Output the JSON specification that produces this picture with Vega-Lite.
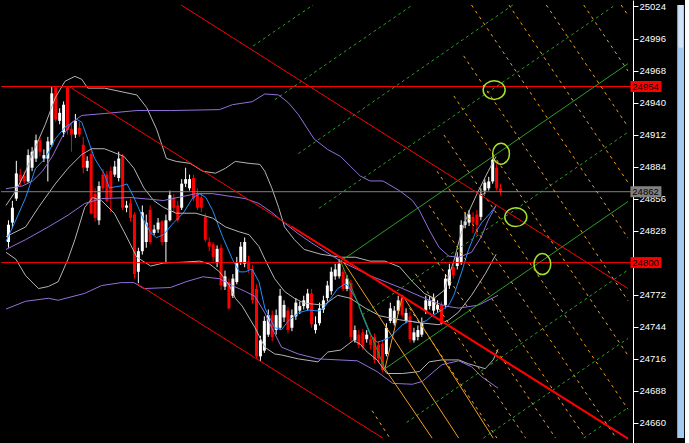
{
"$schema": "https://vega.github.io/schema/vega-lite/v6.json",
"width": 632, "height": 443,
"autosize": {"type": "pad"},
"padding": 0,
"background": "#000000",
"config": {"view": {"stroke": null},
  "axis": {"labelOverlap": false, "grid": false, "domainColor": "#ffffff", "tickColor": "#ffffff", "tickSize": 5, "labelColor": "#ffffff", "labelFont": "Liberation Sans", "labelFontSize": 9.5, "labelPadding": 1, "labelFlush": 3, "title": null, "tickCount": 30}},
"datasets": {
"c": [
{"i":0,"o":24818,"h":24837,"l":24813,"c":24833},{"i":1,"o":24835,"h":24854,"l":24830,"c":24848},{"i":2,"o":24856,"h":24889,"l":24854,"c":24878},{"i":3,"o":24877,"h":24882,"l":24867,"c":24871},{"i":4,"o":24876,"h":24880,"l":24869,"c":24871},{"i":5,"o":24871,"h":24899,"l":24870,"c":24894},{"i":6,"o":24883,"h":24901,"l":24880,"c":24897},{"i":7,"o":24891,"h":24912,"l":24888,"c":24907},{"i":8,"o":24907,"h":24910,"l":24893,"c":24897},{"i":9,"o":24891,"h":24899,"l":24888,"c":24894},
{"i":10,"o":24891,"h":24910,"l":24871,"c":24906},{"i":11,"o":24903,"h":24954,"l":24901,"c":24948},{"i":12,"o":24953,"h":24954,"l":24923,"c":24925},{"i":13,"o":24924,"h":24935,"l":24921,"c":24931},{"i":14,"o":24914,"h":24941,"l":24910,"c":24938},{"i":15,"o":24953,"h":24954,"l":24912,"c":24916},{"i":16,"o":24917,"h":24921,"l":24897,"c":24912},{"i":17,"o":24912,"h":24930,"l":24909,"c":24924},{"i":18,"o":24918,"h":24923,"l":24910,"c":24912},{"i":19,"o":24903,"h":24910,"l":24878,"c":24883},
{"i":20,"o":24883,"h":24893,"l":24880,"c":24889},{"i":21,"o":24895,"h":24899,"l":24842,"c":24843},{"i":22,"o":24860,"h":24865,"l":24836,"c":24839},{"i":23,"o":24837,"h":24871,"l":24833,"c":24867},{"i":24,"o":24877,"h":24882,"l":24863,"c":24865},{"i":25,"o":24877,"h":24880,"l":24853,"c":24854},{"i":26,"o":24880,"h":24884,"l":24844,"c":24857},{"i":27,"o":24877,"h":24889,"l":24875,"c":24884},{"i":28,"o":24874,"h":24897,"l":24871,"c":24891},{"i":29,"o":24893,"h":24895,"l":24846,"c":24848},
{"i":30,"o":24848,"h":24854,"l":24844,"c":24850},{"i":31,"o":24852,"h":24856,"l":24836,"c":24839},{"i":32,"o":24842,"h":24844,"l":24786,"c":24790},{"i":33,"o":24792,"h":24813,"l":24782,"c":24810},{"i":34,"o":24810,"h":24850,"l":24807,"c":24844},{"i":35,"o":24818,"h":24842,"l":24813,"c":24835},{"i":36,"o":24846,"h":24850,"l":24816,"c":24818},{"i":37,"o":24826,"h":24833,"l":24824,"c":24829},{"i":38,"o":24829,"h":24839,"l":24826,"c":24835},{"i":39,"o":24836,"h":24837,"l":24815,"c":24818},
{"i":40,"o":24818,"h":24842,"l":24800,"c":24837},{"i":41,"o":24837,"h":24863,"l":24836,"c":24859},{"i":42,"o":24857,"h":24860,"l":24844,"c":24848},{"i":43,"o":24850,"h":24854,"l":24835,"c":24837},{"i":44,"o":24848,"h":24873,"l":24846,"c":24869},{"i":45,"o":24869,"h":24883,"l":24866,"c":24873},{"i":46,"o":24865,"h":24877,"l":24863,"c":24873},{"i":47,"o":24874,"h":24877,"l":24854,"c":24856},{"i":48,"o":24860,"h":24865,"l":24846,"c":24848},{"i":49,"o":24857,"h":24861,"l":24844,"c":24848},
{"i":50,"o":24840,"h":24843,"l":24818,"c":24820},{"i":51,"o":24818,"h":24822,"l":24810,"c":24814},{"i":52,"o":24816,"h":24818,"l":24801,"c":24805},{"i":53,"o":24800,"h":24815,"l":24796,"c":24812},{"i":54,"o":24813,"h":24816,"l":24776,"c":24780},{"i":55,"o":24779,"h":24793,"l":24776,"c":24788},{"i":56,"o":24783,"h":24786,"l":24759,"c":24760},{"i":57,"o":24771,"h":24790,"l":24769,"c":24786},{"i":58,"o":24783,"h":24805,"l":24781,"c":24800},{"i":59,"o":24800,"h":24818,"l":24798,"c":24814},
{"i":60,"o":24799,"h":24822,"l":24796,"c":24818},{"i":61,"o":24801,"h":24806,"l":24791,"c":24794},{"i":62,"o":24794,"h":24798,"l":24764,"c":24767},{"i":63,"o":24777,"h":24781,"l":24716,"c":24718},{"i":64,"o":24718,"h":24736,"l":24714,"c":24732},{"i":65,"o":24723,"h":24753,"l":24721,"c":24749},{"i":66,"o":24737,"h":24759,"l":24735,"c":24754},{"i":67,"o":24754,"h":24758,"l":24731,"c":24735},{"i":68,"o":24741,"h":24759,"l":24737,"c":24754},{"i":69,"o":24743,"h":24777,"l":24741,"c":24771},
{"i":70,"o":24752,"h":24767,"l":24748,"c":24763},{"i":71,"o":24758,"h":24761,"l":24738,"c":24741},{"i":72,"o":24743,"h":24759,"l":24740,"c":24754},{"i":73,"o":24753,"h":24769,"l":24750,"c":24765},{"i":74,"o":24758,"h":24766,"l":24755,"c":24762},{"i":75,"o":24762,"h":24771,"l":24759,"c":24767},{"i":76,"o":24760,"h":24777,"l":24758,"c":24773},{"i":77,"o":24773,"h":24777,"l":24743,"c":24746},{"i":78,"o":24741,"h":24753,"l":24738,"c":24746},{"i":79,"o":24747,"h":24765,"l":24745,"c":24760},
{"i":80,"o":24759,"h":24771,"l":24756,"c":24767},{"i":81,"o":24769,"h":24784,"l":24766,"c":24780},{"i":82,"o":24775,"h":24796,"l":24772,"c":24792},{"i":83,"o":24788,"h":24799,"l":24785,"c":24794},{"i":84,"o":24788,"h":24803,"l":24786,"c":24799},{"i":85,"o":24792,"h":24795,"l":24775,"c":24777},{"i":86,"o":24777,"h":24789,"l":24775,"c":24786},{"i":87,"o":24782,"h":24785,"l":24731,"c":24735},{"i":88,"o":24732,"h":24745,"l":24730,"c":24741},{"i":89,"o":24737,"h":24741,"l":24725,"c":24728},
{"i":90,"o":24739,"h":24742,"l":24724,"c":24726},{"i":91,"o":24733,"h":24741,"l":24730,"c":24737},{"i":92,"o":24733,"h":24736,"l":24724,"c":24728},{"i":93,"o":24735,"h":24738,"l":24712,"c":24715},{"i":94,"o":24728,"h":24731,"l":24712,"c":24716},{"i":95,"o":24729,"h":24732,"l":24704,"c":24706},{"i":96,"o":24720,"h":24747,"l":24718,"c":24743},{"i":97,"o":24749,"h":24765,"l":24747,"c":24760},{"i":98,"o":24747,"h":24762,"l":24745,"c":24758},{"i":99,"o":24758,"h":24771,"l":24755,"c":24767},
{"i":100,"o":24769,"h":24772,"l":24752,"c":24754},{"i":101,"o":24749,"h":24760,"l":24747,"c":24756},{"i":102,"o":24753,"h":24757,"l":24730,"c":24733},{"i":103,"o":24732,"h":24743,"l":24730,"c":24739},{"i":104,"o":24735,"h":24745,"l":24732,"c":24741},{"i":105,"o":24737,"h":24752,"l":24735,"c":24747},{"i":106,"o":24758,"h":24771,"l":24755,"c":24767},{"i":107,"o":24762,"h":24771,"l":24759,"c":24767},{"i":108,"o":24758,"h":24773,"l":24755,"c":24769},{"i":109,"o":24759,"h":24767,"l":24756,"c":24763},
{"i":110,"o":24763,"h":24766,"l":24745,"c":24747},{"i":111,"o":24763,"h":24790,"l":24760,"c":24786},{"i":112,"o":24780,"h":24799,"l":24777,"c":24794},{"i":113,"o":24796,"h":24800,"l":24786,"c":24789},{"i":114,"o":24797,"h":24809,"l":24794,"c":24805},{"i":115,"o":24800,"h":24837,"l":24798,"c":24833},{"i":116,"o":24833,"h":24844,"l":24830,"c":24836},{"i":117,"o":24835,"h":24846,"l":24832,"c":24842},{"i":118,"o":24840,"h":24844,"l":24826,"c":24835},{"i":119,"o":24842,"h":24846,"l":24824,"c":24833},
{"i":120,"o":24840,"h":24865,"l":24837,"c":24860},{"i":121,"o":24863,"h":24873,"l":24860,"c":24870},{"i":122,"o":24865,"h":24875,"l":24863,"c":24871},{"i":123,"o":24871,"h":24891,"l":24869,"c":24890},{"i":124,"o":24883,"h":24886,"l":24863,"c":24865},{"i":125,"o":24865,"h":24869,"l":24859,"c":24862}
],
"ind": [
{"s":"ma","x":-0.5,"y":24818.4},{"s":"ma","x":2,"y":24837.2},{"s":"ma","x":4.5,"y":24856.9},{"s":"ma","x":7,"y":24882.5},{"s":"ma","x":9.5,"y":24891.1},{"s":"ma","x":12,"y":24908.2},{"s":"ma","x":14.5,"y":24918.4},{"s":"ma","x":17.5,"y":24925.3},{"s":"ma","x":18.75,"y":24922.7},{"s":"ma","x":20.25,"y":24908.2},{"s":"ma","x":22,"y":24891.1},{"s":"ma","x":24.5,"y":24877.4},{"s":"ma","x":25.75,"y":24865.4},{"s":"ma","x":28.75,"y":24867.1},{"s":"ma","x":30.25,"y":24868.8},{"s":"ma","x":32,"y":24856.9},{"s":"ma","x":34.5,"y":24837.2},{"s":"ma","x":36.25,"y":24826.1},{"s":"ma","x":37.75,"y":24821.8},{"s":"ma","x":39.5,"y":24824.4},{"s":"ma","x":42,"y":24834.6},{"s":"ma","x":44.5,"y":24843.2},{"s":"ma","x":47,"y":24856.9},{"s":"ma","x":48.75,"y":24860.3},{"s":"ma","x":50.25,"y":24856.9},{"s":"ma","x":52,"y":24845.7},{"s":"ma","x":54.5,"y":24822.7},{"s":"ma","x":57,"y":24803},{"s":"ma","x":58.75,"y":24791.9},{"s":"ma","x":60.25,"y":24791.9},{"s":"ma","x":62,"y":24794.4},{"s":"ma","x":63.75,"y":24783.3},{"s":"ma","x":65.25,"y":24760.2},{"s":"ma","x":67.75,"y":24743.1},{"s":"ma","x":69.5,"y":24741.4},{"s":"ma","x":71.25,"y":24749.1},{"s":"ma","x":73.75,"y":24756},{"s":"ma","x":76.25,"y":24758.5},{"s":"ma","x":79,"y":24757.7},{"s":"ma","x":80.25,"y":24760.2},{"s":"ma","x":82,"y":24768.8},{"s":"ma","x":83.75,"y":24777.3},{"s":"ma","x":85.75,"y":24781.6},{"s":"ma","x":86.5,"y":24779.1},{"s":"ma","x":88.75,"y":24766.2},{"s":"ma","x":90.25,"y":24751.7},{"s":"ma","x":92,"y":24737.2},{"s":"ma","x":93.75,"y":24730.3},{"s":"ma","x":95.25,"y":24732},{"s":"ma","x":97,"y":24734.6},{"s":"ma","x":98.75,"y":24740.6},{"s":"ma","x":100.25,"y":24745.7},{"s":"ma","x":102,"y":24749.1},{"s":"ma","x":104.5,"y":24747.4},{"s":"ma","x":106.25,"y":24749.1},{"s":"ma","x":107.75,"y":24753.4},{"s":"ma","x":110.25,"y":24758.5},{"s":"ma","x":112,"y":24762.8},{"s":"ma","x":113.25,"y":24771.4},{"s":"ma","x":115.25,"y":24791.9},{"s":"ma","x":117,"y":24811.5},{"s":"ma","x":118.75,"y":24826.1},{"s":"ma","x":120.25,"y":24834.6},{"s":"ma","x":122.5,"y":24843.2},{"s":"ma","x":124,"y":24850},
{"s":"bbU","x":-0.5,"y":24850},{"s":"bbU","x":2,"y":24862.8},{"s":"bbU","x":4.5,"y":24879.9},{"s":"bbU","x":7,"y":24901.3},{"s":"bbU","x":9.5,"y":24921},{"s":"bbU","x":12,"y":24944.1},{"s":"bbU","x":14.5,"y":24958.6},{"s":"bbU","x":17,"y":24962.9},{"s":"bbU","x":18.75,"y":24960.3},{"s":"bbU","x":20.25,"y":24952.6},{"s":"bbU","x":24.5,"y":24952.6},{"s":"bbU","x":32.75,"y":24946.6},{"s":"bbU","x":35.25,"y":24935.5},{"s":"bbU","x":37.75,"y":24916.7},{"s":"bbU","x":40.25,"y":24891.1},{"s":"bbU","x":42.75,"y":24888.5},{"s":"bbU","x":46.25,"y":24886.8},{"s":"bbU","x":49.5,"y":24879.9},{"s":"bbU","x":52.75,"y":24878.2},{"s":"bbU","x":55.25,"y":24882.5},{"s":"bbU","x":57.75,"y":24888.5},{"s":"bbU","x":61.25,"y":24886.8},{"s":"bbU","x":64,"y":24885.9},{"s":"bbU","x":65.25,"y":24879.9},{"s":"bbU","x":67,"y":24865.4},{"s":"bbU","x":68.75,"y":24848.3},{"s":"bbU","x":70.25,"y":24831.2},{"s":"bbU","x":72.75,"y":24820.1},{"s":"bbU","x":75.25,"y":24811.5},{"s":"bbU","x":79.5,"y":24807.3},{"s":"bbU","x":84.5,"y":24804.7},{"s":"bbU","x":88.25,"y":24804.7},{"s":"bbU","x":92,"y":24801.3},{"s":"bbU","x":95.75,"y":24801.3},{"s":"bbU","x":99.5,"y":24796.2},{"s":"bbU","x":102.75,"y":24783.3},{"s":"bbU","x":105.75,"y":24773.1},{"s":"bbU","x":108.25,"y":24768.8},{"s":"bbU","x":110.75,"y":24775.6},{"s":"bbU","x":113.25,"y":24801.3},{"s":"bbU","x":115,"y":24824.4},{"s":"bbU","x":117,"y":24844},{"s":"bbU","x":119.5,"y":24862.8},{"s":"bbU","x":122,"y":24879.9},{"s":"bbU","x":124,"y":24892.8},
{"s":"bbM","x":-0.5,"y":24822.7},{"s":"bbM","x":4.5,"y":24831.2},{"s":"bbM","x":7.75,"y":24848.3},{"s":"bbM","x":12,"y":24868.8},{"s":"bbM","x":15.25,"y":24882.5},{"s":"bbM","x":18.75,"y":24894.5},{"s":"bbM","x":21.25,"y":24899.6},{"s":"bbM","x":24.5,"y":24899.6},{"s":"bbM","x":29.5,"y":24892.8},{"s":"bbM","x":32,"y":24882.5},{"s":"bbM","x":34.5,"y":24865.4},{"s":"bbM","x":37,"y":24854.3},{"s":"bbM","x":39.5,"y":24848.3},{"s":"bbM","x":42.75,"y":24843.2},{"s":"bbM","x":47.75,"y":24843.2},{"s":"bbM","x":52,"y":24838.9},{"s":"bbM","x":55.25,"y":24831.2},{"s":"bbM","x":58.75,"y":24826.9},{"s":"bbM","x":61.25,"y":24824.4},{"s":"bbM","x":63.75,"y":24814.1},{"s":"bbM","x":65.25,"y":24803},{"s":"bbM","x":67.75,"y":24785.9},{"s":"bbM","x":70.25,"y":24774.8},{"s":"bbM","x":72.75,"y":24768.8},{"s":"bbM","x":75.25,"y":24764.5},{"s":"bbM","x":80.25,"y":24762.8},{"s":"bbM","x":83.75,"y":24771.4},{"s":"bbM","x":87,"y":24768.8},{"s":"bbM","x":90.75,"y":24760.2},{"s":"bbM","x":94.5,"y":24753.4},{"s":"bbM","x":99.5,"y":24750},{"s":"bbM","x":104.5,"y":24747.4},{"s":"bbM","x":109.5,"y":24745.7},{"s":"bbM","x":112,"y":24750},{"s":"bbM","x":114.5,"y":24756.8},{"s":"bbM","x":117.75,"y":24771.4},{"s":"bbM","x":121.25,"y":24790.2},{"s":"bbM","x":124,"y":24807.3},
{"s":"bbL","x":-0.5,"y":24809},{"s":"bbL","x":2,"y":24803},{"s":"bbL","x":4.5,"y":24788.5},{"s":"bbL","x":7.75,"y":24777.3},{"s":"bbL","x":10.25,"y":24779.1},{"s":"bbL","x":12.75,"y":24783.3},{"s":"bbL","x":15.25,"y":24803},{"s":"bbL","x":17,"y":24820.1},{"s":"bbL","x":19.5,"y":24848.3},{"s":"bbL","x":21.5,"y":24856.9},{"s":"bbL","x":23.75,"y":24854.3},{"s":"bbL","x":27,"y":24843.2},{"s":"bbL","x":29.5,"y":24826.9},{"s":"bbL","x":32.75,"y":24804.7},{"s":"bbL","x":36.25,"y":24797},{"s":"bbL","x":39.5,"y":24799.6},{"s":"bbL","x":44.5,"y":24800.4},{"s":"bbL","x":48.75,"y":24801.3},{"s":"bbL","x":51.25,"y":24798.7},{"s":"bbL","x":53.75,"y":24791.9},{"s":"bbL","x":56.25,"y":24779.9},{"s":"bbL","x":57.75,"y":24768.8},{"s":"bbL","x":59.5,"y":24762},{"s":"bbL","x":62.75,"y":24743.1},{"s":"bbL","x":65.25,"y":24726},{"s":"bbL","x":67.75,"y":24720.1},{"s":"bbL","x":69.5,"y":24719.2},{"s":"bbL","x":73.75,"y":24715.8},{"s":"bbL","x":78.75,"y":24713.2},{"s":"bbL","x":81.25,"y":24721.8},{"s":"bbL","x":84.5,"y":24723.5},{"s":"bbL","x":87.75,"y":24732},{"s":"bbL","x":89.5,"y":24728.6},{"s":"bbL","x":91.25,"y":24721.8},{"s":"bbL","x":93.75,"y":24714.9},{"s":"bbL","x":96.25,"y":24703},{"s":"bbL","x":100.25,"y":24703},{"s":"bbL","x":104.5,"y":24704.7},{"s":"bbL","x":107,"y":24713.2},{"s":"bbL","x":110.25,"y":24714.9},{"s":"bbL","x":114.5,"y":24714.9},{"s":"bbL","x":117,"y":24711.5},{"s":"bbL","x":121.25,"y":24707.2},{"s":"bbL","x":123.25,"y":24714.9},{"s":"bbL","x":124.5,"y":24724.3},
{"s":"pU","x":-0.5,"y":24864.6},{"s":"pU","x":3.75,"y":24867.1},{"s":"pU","x":6.25,"y":24871.4},{"s":"pU","x":8.75,"y":24879.9},{"s":"pU","x":11.25,"y":24892.8},{"s":"pU","x":13.75,"y":24909.9},{"s":"pU","x":16.25,"y":24922.7},{"s":"pU","x":18.75,"y":24928.7},{"s":"pU","x":24.5,"y":24930.4},{"s":"pU","x":32.75,"y":24933},{"s":"pU","x":41.25,"y":24933},{"s":"pU","x":53.75,"y":24933.8},{"s":"pU","x":57,"y":24938.1},{"s":"pU","x":62,"y":24940.7},{"s":"pU","x":65.25,"y":24947.5},{"s":"pU","x":68.75,"y":24946.6},{"s":"pU","x":71.25,"y":24939.8},{"s":"pU","x":73.75,"y":24929.5},{"s":"pU","x":77.75,"y":24908.2},{"s":"pU","x":81.25,"y":24898.8},{"s":"pU","x":84.5,"y":24892.8},{"s":"pU","x":87,"y":24884.2},{"s":"pU","x":89.5,"y":24875.7},{"s":"pU","x":92,"y":24871.4},{"s":"pU","x":95.25,"y":24871.4},{"s":"pU","x":99.5,"y":24862.8},{"s":"pU","x":102.75,"y":24854.3},{"s":"pU","x":104.5,"y":24845.7},{"s":"pU","x":107,"y":24828.6},{"s":"pU","x":109.5,"y":24813.3},{"s":"pU","x":112,"y":24805.6},{"s":"pU","x":114.5,"y":24804.7},{"s":"pU","x":117.75,"y":24809},{"s":"pU","x":120.25,"y":24822.7},{"s":"pU","x":122,"y":24837.2},{"s":"pU","x":124,"y":24850},
{"s":"pM","x":-0.5,"y":24811.5},{"s":"pM","x":4.5,"y":24820.1},{"s":"pM","x":10.25,"y":24831.2},{"s":"pM","x":15.25,"y":24841.5},{"s":"pM","x":19.5,"y":24851.7},{"s":"pM","x":23.75,"y":24856},{"s":"pM","x":31.25,"y":24856.9},{"s":"pM","x":39.5,"y":24854.3},{"s":"pM","x":47.75,"y":24860.3},{"s":"pM","x":52,"y":24860.3},{"s":"pM","x":57,"y":24857.7},{"s":"pM","x":60.25,"y":24856},{"s":"pM","x":63.75,"y":24851.7},{"s":"pM","x":67,"y":24844},{"s":"pM","x":70.25,"y":24834.6},{"s":"pM","x":73.75,"y":24825.2},{"s":"pM","x":77,"y":24817.5},{"s":"pM","x":84.5,"y":24801.3},{"s":"pM","x":92,"y":24788.5},{"s":"pM","x":100.25,"y":24777.3},{"s":"pM","x":107,"y":24767.1},{"s":"pM","x":111.25,"y":24761.9},{"s":"pM","x":114.5,"y":24760.2},{"s":"pM","x":119.5,"y":24762.8},{"s":"pM","x":124.5,"y":24771.4},
{"s":"pL","x":-0.5,"y":24759.4},{"s":"pL","x":4.5,"y":24766.2},{"s":"pL","x":10.25,"y":24768.8},{"s":"pL","x":12.75,"y":24767.1},{"s":"pL","x":19.5,"y":24773.1},{"s":"pL","x":23.75,"y":24779.9},{"s":"pL","x":28.75,"y":24782.5},{"s":"pL","x":32,"y":24782.5},{"s":"pL","x":34.5,"y":24777.3},{"s":"pL","x":41.25,"y":24778.2},{"s":"pL","x":45.25,"y":24783.3},{"s":"pL","x":49.5,"y":24787.6},{"s":"pL","x":53.75,"y":24785.9},{"s":"pL","x":57,"y":24779.9},{"s":"pL","x":60.25,"y":24774.8},{"s":"pL","x":62.75,"y":24770.5},{"s":"pL","x":65.25,"y":24756},{"s":"pL","x":67,"y":24743.1},{"s":"pL","x":69.5,"y":24726},{"s":"pL","x":73.75,"y":24720.1},{"s":"pL","x":78.75,"y":24715.8},{"s":"pL","x":88.75,"y":24714.1},{"s":"pL","x":93.75,"y":24704.7},{"s":"pL","x":97.75,"y":24694.4},{"s":"pL","x":102.75,"y":24693.6},{"s":"pL","x":105.25,"y":24696.1},{"s":"pL","x":108.75,"y":24706.4},{"s":"pL","x":110.25,"y":24710.7},{"s":"pL","x":114.5,"y":24714.1},{"s":"pL","x":117.75,"y":24709},{"s":"pL","x":120.25,"y":24700.4},{"s":"pL","x":124.5,"y":24690.1}
],
"lv": [{"price":24954,"kind":"res"},{"price":24862,"kind":"cur"},{"price":24800,"kind":"sup"}],
"tr": [
{"k":"chan","x":15.75,"y":24953.5,"x2":157.5,"y2":24646.1},
{"k":"chan","x":44,"y":25025.3,"x2":157.5,"y2":24777.3},
{"k":"chan","x":32.75,"y":24781.6,"x2":95.25,"y2":24646.5},
{"k":"chanB","x":72,"y":24831.6,"x2":157.5,"y2":24646.1},
{"k":"gD","x":62.25,"y":24989.4,"x2":77.5,"y2":25025.3},
{"k":"gD","x":67.75,"y":24942.4,"x2":102.75,"y2":25025.3},
{"k":"gD","x":73.75,"y":24895.3,"x2":128.25,"y2":25025.3},
{"k":"gD","x":79,"y":24847.5,"x2":154.25,"y2":25025.3},
{"k":"gD","x":90,"y":24754.3,"x2":157.5,"y2":24914.1},
{"k":"gD","x":101.25,"y":24660.2,"x2":157.5,"y2":24793.6},
{"k":"gD","x":120.75,"y":24646.5,"x2":157.5,"y2":24733.7},
{"k":"gD","x":146.25,"y":24646.5,"x2":157.5,"y2":24673},
{"k":"gS","x":84.5,"y":24801.3,"x2":157.5,"y2":24974},
{"k":"gS","x":95.75,"y":24707.2,"x2":157.5,"y2":24853.4},
{"k":"gS","x":84.5,"y":24801.3,"x2":95.75,"y2":24707.2},
{"k":"oD","x":155.75,"y":25025.3,"x2":157.5,"y2":25016.3},
{"k":"oD","x":146.25,"y":25025.3,"x2":157.5,"y2":24967.6},
{"k":"oD","x":136.75,"y":25025.3,"x2":157.5,"y2":24918.8},
{"k":"oD","x":127.25,"y":25025.3,"x2":157.5,"y2":24870.1},
{"k":"oD","x":117.75,"y":25025.3,"x2":157.5,"y2":24821.4},
{"k":"oD","x":115.75,"y":24980.8,"x2":157.5,"y2":24766.7},
{"k":"oD","x":113.25,"y":24945.8,"x2":157.5,"y2":24718.8},
{"k":"oD","x":110.75,"y":24911.6,"x2":157.5,"y2":24671.7},
{"k":"oD","x":109,"y":24879.9,"x2":154.5,"y2":24646.5},
{"k":"oD","x":107,"y":24850,"x2":146.7,"y2":24646.5},
{"k":"oD","x":105.25,"y":24820.1,"x2":139.1,"y2":24646.5},
{"k":"oD","x":103.5,"y":24790.2,"x2":131.5,"y2":24646.5},
{"k":"oD","x":102,"y":24760.2,"x2":124.2,"y2":24646.5},
{"k":"oD","x":92.5,"y":24670.5,"x2":97,"y2":24646.5},
{"k":"oS","x":85.25,"y":24800.4,"x2":114.5,"y2":24646.5},
{"k":"oS","x":100.25,"y":24771.4,"x2":123.25,"y2":24646.5},
{"k":"oS","x":95.75,"y":24707.2,"x2":100.25,"y2":24771.4},
{"k":"oS","x":95.75,"y":24707.2,"x2":107.75,"y2":24646.5}
],
"el": [{"e":"w","x":123.5,"y":24950.9},{"e":"t","x":125.25,"y":24895.3},{"e":"w","x":129,"y":24839.8},{"e":"t","x":135.75,"y":24798.7}]
},
"layer": [
{"data": {"name": "c"},
 "mark": {"type": "rule", "xOffset": 0.5, "strokeWidth": 1},
 "encoding": {
  "x": {"field": "i", "type": "quantitative", "scale": {"domain": [-0.5, 157.5], "nice": false, "zero": false}, "axis": null},
  "y": {"field": "l", "type": "quantitative", "title": null, "scale": {"domain": [24646.6, 25025.3], "nice": false, "zero": false},
        "axis": {"title": null, "orient": "right", "values": [24660,24688,24716,24744,24772,24800,24828,24856,24884,24912,24940,24968,24996,25024], "tickCount": 30, "format": "d", "labelOverlap": false, "labelFlush": 3, "labelExpr": "datum.value === 24800 ? '' : datum.label"}},
  "y2": {"field": "h"},
  "color": {"condition": {"test": "datum.c >= datum.o", "value": "#ffffff"}, "value": "#ff0000"}
 }},
{"data": {"name": "c"},
 "mark": {"type": "bar", "size": 3, "xOffset": 0.5},
 "encoding": {
  "x": {"field": "i", "type": "quantitative", "axis": null},
  "y": {"field": "o", "type": "quantitative", "title": null},
  "y2": {"field": "c"},
  "color": {"condition": {"test": "datum.c >= datum.o", "value": "#ffffff"}, "value": "#ff0000"}
 }},
{"data": {"name": "ind"},
 "mark": {"type": "line", "clip": true, "strokeWidth": 1},
 "encoding": {
  "x": {"field": "x", "type": "quantitative", "axis": null},
  "y": {"field": "y", "type": "quantitative", "title": null},
  "detail": {"field": "s"},
  "color": {"condition": [{"test": "datum.s === 'ma'", "value": "#1e90ff"}, {"test": "indexof(datum.s, 'bb') === 0", "value": "#b4b4b4"}], "value": "#9370db"}
 }},
{"data": {"name": "lv"},
 "mark": {"type": "rule", "strokeWidth": 1},
 "encoding": {
  "y": {"field": "price", "type": "quantitative", "title": null},
  "color": {"condition": {"test": "datum.kind === 'cur'", "value": "#808080"}, "value": "#ff0000"}
 }},
{"data": {"name": "tr"}, "transform": [{"filter": "datum.k === 'gD'"}],
 "mark": {"type": "rule", "clip": true, "color": "#2a9d2a", "strokeWidth": 1, "strokeDash": [3, 3]},
 "encoding": {"x": {"field": "x", "type": "quantitative", "axis": null}, "y": {"field": "y", "type": "quantitative", "title": null}, "x2": {"field": "x2"}, "y2": {"field": "y2"}}},
{"data": {"name": "tr"}, "transform": [{"filter": "datum.k === 'gS'"}],
 "mark": {"type": "rule", "clip": true, "color": "#2a9d2a", "strokeWidth": 1},
 "encoding": {"x": {"field": "x", "type": "quantitative", "axis": null}, "y": {"field": "y", "type": "quantitative", "title": null}, "x2": {"field": "x2"}, "y2": {"field": "y2"}}},
{"data": {"name": "tr"}, "transform": [{"filter": "datum.k === 'oD'"}],
 "mark": {"type": "rule", "clip": true, "color": "#f0a020", "strokeWidth": 1, "strokeDash": [3, 4]},
 "encoding": {"x": {"field": "x", "type": "quantitative", "axis": null}, "y": {"field": "y", "type": "quantitative", "title": null}, "x2": {"field": "x2"}, "y2": {"field": "y2"}}},
{"data": {"name": "tr"}, "transform": [{"filter": "datum.k === 'oS'"}],
 "mark": {"type": "rule", "clip": true, "color": "#f0a020", "strokeWidth": 1},
 "encoding": {"x": {"field": "x", "type": "quantitative", "axis": null}, "y": {"field": "y", "type": "quantitative", "title": null}, "x2": {"field": "x2"}, "y2": {"field": "y2"}}},
{"data": {"name": "tr"}, "transform": [{"filter": "datum.k === 'chan'"}],
 "mark": {"type": "rule", "clip": true, "color": "#ff0000", "strokeWidth": 1},
 "encoding": {"x": {"field": "x", "type": "quantitative", "axis": null}, "y": {"field": "y", "type": "quantitative", "title": null}, "x2": {"field": "x2"}, "y2": {"field": "y2"}}},
{"data": {"name": "tr"}, "transform": [{"filter": "datum.k === 'chanB'"}],
 "mark": {"type": "rule", "clip": true, "color": "#ff0000", "strokeWidth": 2},
 "encoding": {"x": {"field": "x", "type": "quantitative", "axis": null}, "y": {"field": "y", "type": "quantitative", "title": null}, "x2": {"field": "x2"}, "y2": {"field": "y2"}}},
{"data": {"name": "el"}, "transform": [{"filter": "datum.e === 'w'"}],
 "mark": {"type": "point", "filled": false, "shape": "M-1,0A1,0.85,0,1,1,1,0A1,0.85,0,1,1,-1,0Z", "size": 484, "strokeWidth": 1.5, "color": "#a8e02c", "opacity": 1},
 "encoding": {"x": {"field": "x", "type": "quantitative", "axis": null}, "y": {"field": "y", "type": "quantitative", "title": null}}},
{"data": {"name": "el"}, "transform": [{"filter": "datum.e === 't'"}],
 "mark": {"type": "point", "filled": false, "shape": "M0,-1A0.8,1,0,1,1,0,1A0.8,1,0,1,1,0,-1Z", "size": 440, "strokeWidth": 1.5, "color": "#a8e02c", "opacity": 1},
 "encoding": {"x": {"field": "x", "type": "quantitative", "axis": null}, "y": {"field": "y", "type": "quantitative", "title": null}}},
{"data": {"name": "lv"},
 "mark": {"type": "bar", "orient": "horizontal", "size": 11},
 "encoding": {
  "x": {"datum": 158.125, "axis": null}, "x2": {"datum": 166},
  "y": {"field": "price", "type": "quantitative", "title": null},
  "color": {"condition": {"test": "datum.kind === 'cur'", "value": "#808080"}, "value": "#ff0000"}
 }},
{"data": {"name": "lv"},
 "mark": {"type": "text", "align": "left", "baseline": "middle", "font": "Liberation Sans", "fontSize": 9.5, "color": "#000000"},
 "encoding": {
  "x": {"datum": 158.6, "axis": null},
  "y": {"field": "price", "type": "quantitative", "title": null},
  "text": {"field": "price", "type": "quantitative", "format": "d"}
 }},
{"data": {"values": [{}]},
 "mark": {"type": "rect", "color": "#a6caf0"},
 "encoding": {"x": {"datum": 170, "axis": null}, "x2": {"datum": 171.75}, "y": {"datum": 25025.3, "title": null}, "y2": {"datum": 24646.6}}},
{"data": {"values": [{}]},
 "mark": {"type": "rect", "color": "#d2e5f8"},
 "encoding": {"x": {"datum": 170.3, "axis": null}, "x2": {"datum": 171.5}, "y": {"datum": 25025.3, "title": null}, "y2": {"datum": 24988}}}
]
}
